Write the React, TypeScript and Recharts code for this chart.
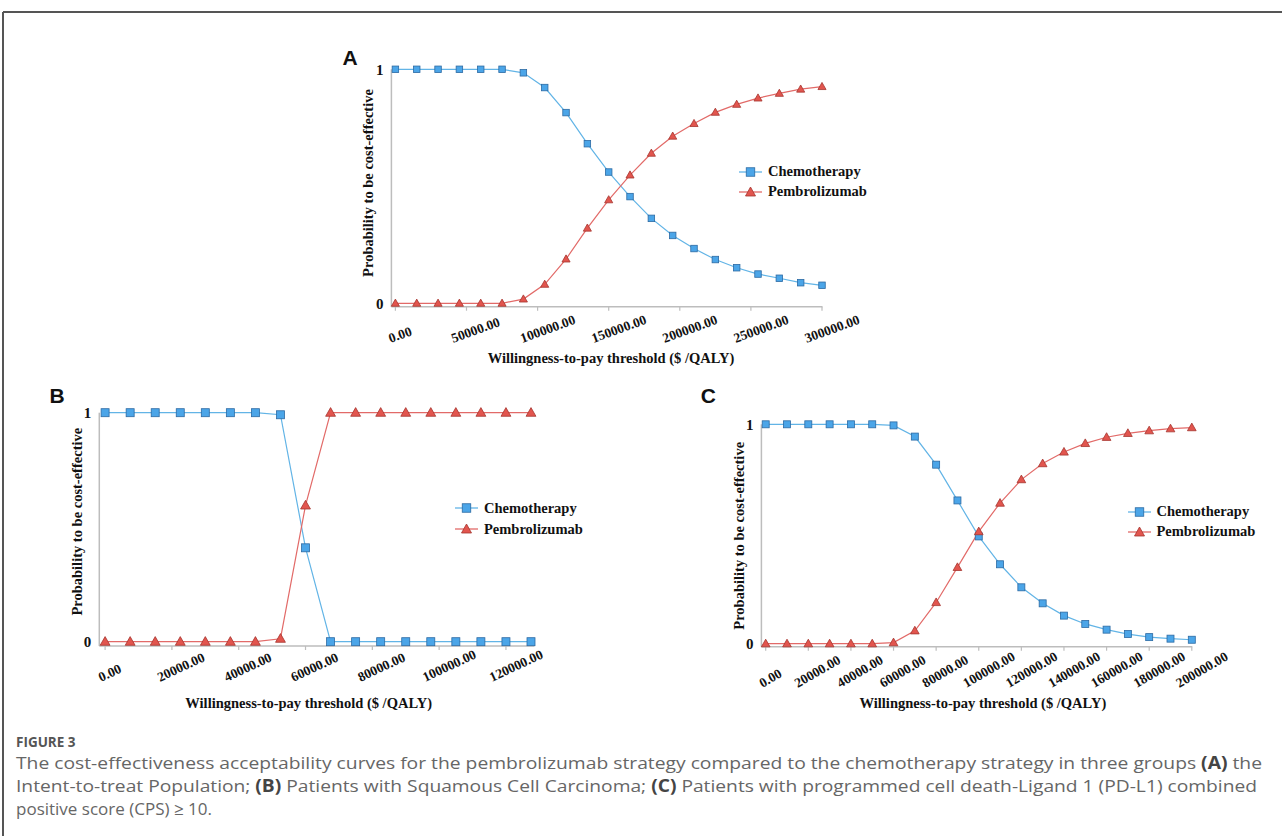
import React from 'react'
import { LineChart, Line, XAxis, YAxis } from 'recharts'

// ---- data ----
const wtpA = [0, 15000, 30000, 45000, 60000, 75000, 90000, 105000, 120000, 135000, 150000, 165000, 180000, 195000, 210000, 225000, 240000, 255000, 270000, 285000, 300000]
const chemoA = [1, 1, 1, 1, 1, 1, 0.985, 0.922, 0.815, 0.682, 0.561, 0.456, 0.363, 0.29, 0.234, 0.187, 0.152, 0.125, 0.107, 0.088, 0.077]
const pembroA = [0, 0, 0, 0, 0, 0, 0.018, 0.081, 0.189, 0.321, 0.442, 0.548, 0.641, 0.714, 0.768, 0.816, 0.85, 0.877, 0.897, 0.915, 0.926]
const ticksA = [0, 50000, 100000, 150000, 200000, 250000, 300000]

const wtpB = [0, 7500, 15000, 22500, 30000, 37500, 45000, 52500, 60000, 67500, 75000, 82500, 90000, 97500, 105000, 112500, 120000, 127500]
const chemoB = [1, 1, 1, 1, 1, 1, 1, 0.991, 0.41, 0, 0, 0, 0, 0, 0, 0, 0, 0]
const pembroB = [0, 0, 0, 0, 0, 0, 0, 0.013, 0.595, 1, 1, 1, 1, 1, 1, 1, 1, 1]
const ticksB = [0, 20000, 40000, 60000, 80000, 100000, 120000]

const wtpC = [0, 10000, 20000, 30000, 40000, 50000, 60000, 70000, 80000, 90000, 100000, 110000, 120000, 130000, 140000, 150000, 160000, 170000, 180000, 190000, 200000]
const chemoC = [1, 1, 1, 1, 1, 1, 0.995, 0.944, 0.816, 0.653, 0.489, 0.362, 0.257, 0.184, 0.128, 0.09, 0.064, 0.044, 0.03, 0.023, 0.018]
const pembroC = [0, 0, 0, 0, 0, 0, 0.005, 0.059, 0.188, 0.348, 0.511, 0.641, 0.748, 0.821, 0.874, 0.913, 0.941, 0.959, 0.971, 0.98, 0.985]
const ticksC = [0, 20000, 40000, 60000, 80000, 100000, 120000, 140000, 160000, 180000, 200000]

const seriesNames = ['Chemotherapy', 'Pembrolizumab']
const xTitle = 'Willingness-to-pay threshold ($ /QALY)'
const yTitle = 'Probability to be cost-effective'

const SERIF = '"Liberation Serif", "Times New Roman", serif'
const CAPTION_FONT = '"Open Sans", "Noto Sans", sans-serif'
const BLUE_LINE = '#62b4e6'
const BLUE_FILL = '#4ba5e8'
const BLUE_EDGE = '#2c6aa3'
const RED_LINE = '#e26a68'
const RED_FILL = '#e2554e'
const RED_EDGE = '#a5352f'
const AXIS = '#bdbdbd'

type Geo = {
  box: [number, number, number, number]
  axisX: number; x0: number; xEnd: number; axisEnd: number
  yTop: number; y0: number; axisY: number
  tickAngle: number; tickBottom: number
  titleX: number; titleY: number
  yTitleX: number; yTitleY: number
  legendX: number; legendY: number; rowGap: number
  marker: number
}

const geoA: Geo = {
  box: [330, 40, 560, 340],
  axisX: 391.4, x0: 395.4, xEnd: 822, axisEnd: 822.5,
  yTop: 69.3, y0: 303.3, axisY: 306.7,
  tickAngle: 20, tickBottom: 36.3,
  titleX: 611, titleY: 358,
  yTitleX: 367.5, yTitleY: 183,
  legendX: 739, legendY: 171.7, rowGap: 20,
  marker: 6.5,
}
const geoB: Geo = {
  box: [40, 380, 600, 340],
  axisX: 99.3, x0: 105.1, xEnd: 531, axisEnd: 534.4,
  yTop: 412.7, y0: 641.7, axisY: 646,
  tickAngle: 25, tickBottom: 36,
  titleX: 308.7, titleY: 703.3,
  yTitleX: 77.3, yTitleY: 521.7,
  legendX: 455, legendY: 508.3, rowGap: 21,
  marker: 8,
}
const geoC: Geo = {
  box: [690, 380, 580, 340],
  axisX: 761.4, x0: 765.7, xEnd: 1191.8, axisEnd: 1192.3,
  yTop: 424.3, y0: 643.7, axisY: 646.7,
  tickAngle: 30, tickBottom: 41.3,
  titleX: 982.9, titleY: 703.3,
  yTitleX: 739, yTitleY: 535.8,
  legendX: 1127.5, legendY: 511.7, rowGap: 20,
  marker: 7,
}

function squareDot(size: number) {
  return (p: any) => (
    <rect key={`sq-${p.index}`} x={p.cx - size / 2} y={p.cy - size / 2} width={size} height={size}
      fill={BLUE_FILL} stroke={BLUE_EDGE} strokeWidth={0.8} />
  )
}

function triangleDot(size: number) {
  return (p: any) => {
    const { cx, cy } = p
    const d = `M${cx},${cy - size * 0.6} L${cx + size * 0.58},${cy + size * 0.42} L${cx - size * 0.58},${cy + size * 0.42} Z`
    return <path key={`tr-${p.index}`} d={d} fill={RED_FILL} stroke={RED_EDGE} strokeWidth={0.8} strokeLinejoin="round" />
  }
}

function LegendBox({ g }: { g: Geo }) {
  const [L, T] = g.box
  return (
    <div style={{
      position: 'absolute', left: g.legendX - L, top: g.legendY - g.rowGap / 2 - T,
      fontFamily: SERIF, fontWeight: 'bold', fontSize: 14.5, color: '#111', whiteSpace: 'nowrap',
    }}>
      {seriesNames.map((name, i) => (
        <div key={name} style={{ display: 'flex', alignItems: 'center', height: g.rowGap }}>
          <svg width={23} height={14} style={{ display: 'block' }}>
            <line x1={0} y1={7} x2={23} y2={7} stroke={i === 0 ? BLUE_LINE : RED_LINE} strokeWidth={1.3} />
            {i === 0 ? (
              <rect x={7.25} y={2.75} width={8.5} height={8.5} fill={BLUE_FILL} stroke={BLUE_EDGE} strokeWidth={0.8} />
            ) : (
              <path d="M11.5,2 L16.5,11 L6.5,11 Z" fill={RED_FILL} stroke={RED_EDGE} strokeWidth={0.8} strokeLinejoin="round" />
            )}
          </svg>
          <span style={{ marginLeft: 6, lineHeight: 1 }}>{name}</span>
        </div>
      ))}
    </div>
  )
}

function Panel({ g, wtp, chemo, pembro, ticks }: { g: Geo; wtp: number[]; chemo: number[]; pembro: number[]; ticks: number[] }) {
  const [L, T, W, H] = g.box
  const data = wtp.map((w, i) => ({ wtp: w, chemo: chemo[i], pembro: pembro[i] }))
  const axisYRel = g.axisY - T

  const renderTick = (props: any) => {
    const label = Number(props.payload.value).toFixed(2)
    const fs = 13.5
    const w = fs * (0.5 * (label.length - 1) + 0.25)
    const h = fs * 0.68
    const r = (g.tickAngle * Math.PI) / 180
    const bh = w * Math.sin(r) + h * Math.cos(r)
    const cx = props.x + 1 + 0.16 * w
    const cy = axisYRel + g.tickBottom - bh / 2
    return (
      <text x={cx} y={cy} textAnchor="middle" dominantBaseline="central"
        transform={`rotate(${-g.tickAngle} ${cx} ${cy})`}
        fontFamily={SERIF} fontWeight="bold" fontSize={fs} fill="#111">
        {label}
      </text>
    )
  }

  return (
    <div style={{ position: 'absolute', left: L, top: T, width: W, height: H }}>
      <LineChart width={W} height={H} data={data}
        margin={{ top: g.yTop - T, right: W - (g.axisEnd - L), left: 0, bottom: 0 }}>
        <XAxis type="number" dataKey="wtp" domain={[0, wtp[wtp.length - 1]]} ticks={ticks} interval={0}
          padding={{ left: g.x0 - g.axisX, right: g.axisEnd - g.xEnd }}
          height={H - axisYRel} axisLine={{ stroke: AXIS, strokeWidth: 1.5 }}
          tickLine={{ stroke: AXIS, strokeWidth: 1.2 }} tickSize={4} tick={renderTick}
          label={{
            content: () => (
              <text x={g.titleX - L} y={g.titleY - T} textAnchor="middle" dominantBaseline="central"
                fontFamily={SERIF} fontWeight="bold" fontSize={14.5} fill="#111">{xTitle}</text>
            ),
          }} />
        <YAxis type="number" domain={[0, 1]} ticks={[0, 1]} interval={0} width={g.axisX - L}
          padding={{ top: 0, bottom: g.axisY - g.y0 }}
          axisLine={{ stroke: AXIS, strokeWidth: 1.5 }} tickLine={false} tickSize={0} tickMargin={8}
          tick={{ fontFamily: SERIF, fontWeight: 'bold', fontSize: 15, fill: '#111' }}
          label={{
            content: () => (
              <text x={g.yTitleX - L} y={g.yTitleY - T} textAnchor="middle" dominantBaseline="central"
                transform={`rotate(-90 ${g.yTitleX - L} ${g.yTitleY - T})`}
                fontFamily={SERIF} fontWeight="bold" fontSize={14.5} fill="#111">{yTitle}</text>
            ),
          }} />
        <Line type="linear" dataKey="chemo" name={seriesNames[0]} stroke={BLUE_LINE} strokeWidth={1.2}
          dot={squareDot(g.marker)} activeDot={false} isAnimationActive={false} />
        <Line type="linear" dataKey="pembro" name={seriesNames[1]} stroke={RED_LINE} strokeWidth={1.2}
          dot={triangleDot(g.marker + 0.5)} activeDot={false} isAnimationActive={false} />
      </LineChart>
      <LegendBox g={g} />
    </div>
  )
}

export default function App() {
  const strong = { fontWeight: 700, fill: '#444' }
  return (
    <div style={{ position: 'absolute', left: 0, top: 0, width: 1282, height: 836, background: '#fff', overflow: 'hidden' }}>
      <svg width={1282} height={836} style={{ position: 'absolute', left: 0, top: 0 }}>
        <line x1={3} y1={12} x2={1282} y2={12} stroke="#555" strokeWidth={2} />
        <line x1={3} y1={12} x2={3} y2={836} stroke="#555" strokeWidth={2} />
        <g fontFamily='"Liberation Sans", Arial, sans-serif' fontWeight="bold" fontSize={21} fill="#111">
          <text x={342.5} y={65}>A</text>
          <text x={49.6} y={403}>B</text>
          <text x={700.7} y={403}>C</text>
        </g>
        <text x={16} y={747} fontFamily={CAPTION_FONT} fontSize={13.5} fontWeight={700} fill="#555">FIGURE 3</text>
        <g fontFamily={CAPTION_FONT} fontSize={17} fill="#666">
          <text x={16} y={769} textLength={1246} lengthAdjust="spacingAndGlyphs">
            The cost-effectiveness acceptability curves for the pembrolizumab strategy compared to the chemotherapy strategy in three groups <tspan {...strong}>(A)</tspan> the
          </text>
          <text x={16} y={792} textLength={1241} lengthAdjust="spacingAndGlyphs">
            Intent-to-treat Population; <tspan {...strong}>(B)</tspan> Patients with Squamous Cell Carcinoma; <tspan {...strong}>(C)</tspan> Patients with programmed cell death-Ligand 1 (PD-L1) combined
          </text>
          <text x={16} y={815}>positive score (CPS) ≥ 10.</text>
        </g>
      </svg>
      <Panel g={geoA} wtp={wtpA} chemo={chemoA} pembro={pembroA} ticks={ticksA} />
      <Panel g={geoB} wtp={wtpB} chemo={chemoB} pembro={pembroB} ticks={ticksB} />
      <Panel g={geoC} wtp={wtpC} chemo={chemoC} pembro={pembroC} ticks={ticksC} />
    </div>
  )
}
